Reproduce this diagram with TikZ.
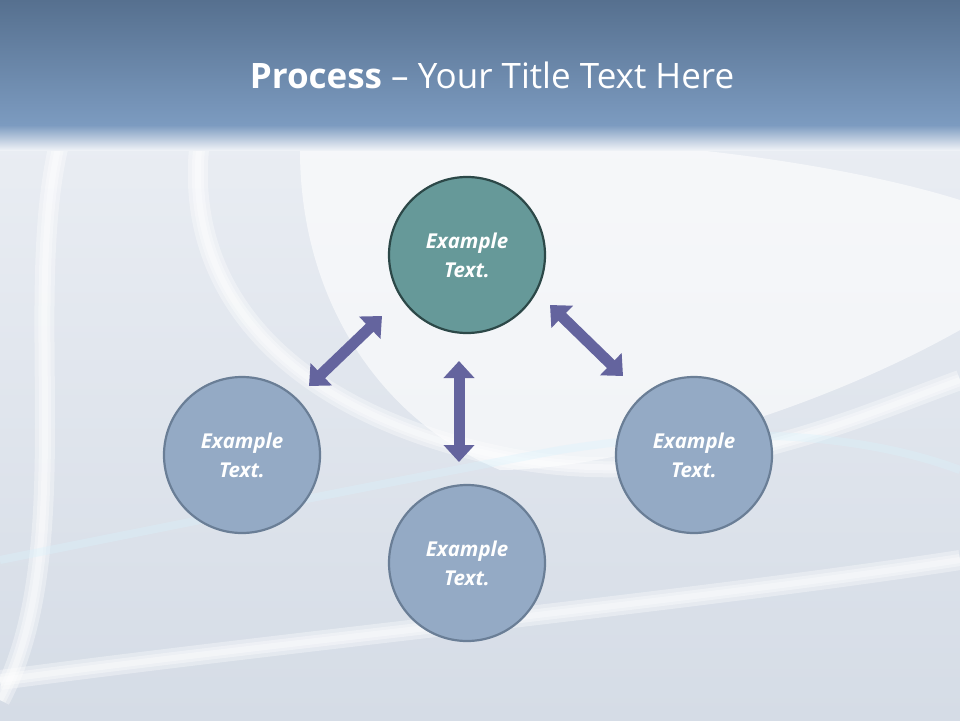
\documentclass[tikz,border=0pt]{standalone}
\usepackage{fontspec}
\setmainfont{Open Sans}
\usetikzlibrary{arrows.meta}
\definecolor{barTop}{HTML}{56708F}
\definecolor{barBot}{HTML}{7C9BC0}
\definecolor{bgA}{HTML}{EEF1F6}
\definecolor{bgB}{HTML}{D5DCE6}
\definecolor{tealF}{HTML}{669999}
\definecolor{tealD}{HTML}{2C4848}
\definecolor{blueF}{HTML}{94AAC5}
\definecolor{blueD}{HTML}{6A7E96}
\definecolor{arr}{HTML}{64649E}
\tikzset{
  bub/.style={circle,minimum size=156pt,line width=2.2pt,draw=blueD,fill=blueF,
    font=\fontsize{20.5}{29}\selectfont\bfseries\itshape,text=white,align=center},
  tbub/.style={bub,draw=tealD,fill=tealF},
  darr/.style={arr,line width=11pt,{Triangle[width=30pt,length=17pt]}-{Triangle[width=30pt,length=17pt]}},
  swirl/.style={white,line width=#1,opacity=0.35}
}
\begin{document}
\begin{tikzpicture}[x=1pt,y=-1pt]
\useasboundingbox (0,0) rectangle (960,720);
\shade[top color=bgA,bottom color=bgB] (0,0) rectangle (960,720);
\fill[white,opacity=0.6] (300,150) .. controls (500,120) and (800,150) .. (960,200) -- (960,330) .. controls (800,420) and (600,470) .. (500,470) .. controls (380,420) and (300,300) .. (300,150);
\foreach \w in {20,12,6}{
\draw[swirl=\w pt] (60,140) .. controls (20,300) and (80,550) .. (0,700);
\draw[swirl=\w pt] (200,140) .. controls (180,300) and (300,420) .. (520,460) .. controls (700,490) and (850,420) .. (960,380);
\draw[swirl=\w pt] (0,680) .. controls (300,640) and (700,600) .. (960,560);}
\draw[swirl=8pt,color=cyan!15] (0,560) .. controls (200,520) and (400,480) .. (560,450) .. controls (750,420) and (880,440) .. (960,470);
\shade[top color=barTop,bottom color=barBot] (0,0) rectangle (960,125);
\shade[top color=barBot,bottom color=bgA] (0,125) rectangle (960,150);
\node (title) at (492,75) {\fontsize{35}{40}\selectfont\color{white}\textbf{Process} – Your Title Text Here};
\node[tbub] (top) at (467,255) {Example\\Text.};
\node[bub] (left) at (242,455) {Example\\Text.};
\node[bub] (right) at (694,455) {Example\\Text.};
\node[bub] (bot) at (467,563) {Example\\Text.};
\coordinate (l1) at (382,316); \coordinate (l2) at (309,386);
\coordinate (r1) at (550,305); \coordinate (r2) at (623,376);
\coordinate (m1) at (459,361); \coordinate (m2) at (459,462);
\draw[darr] (l1) -- (l2);
\draw[darr] (r1) -- (r2);
\draw[darr] (m1) -- (m2);
\end{tikzpicture}
\end{document}
